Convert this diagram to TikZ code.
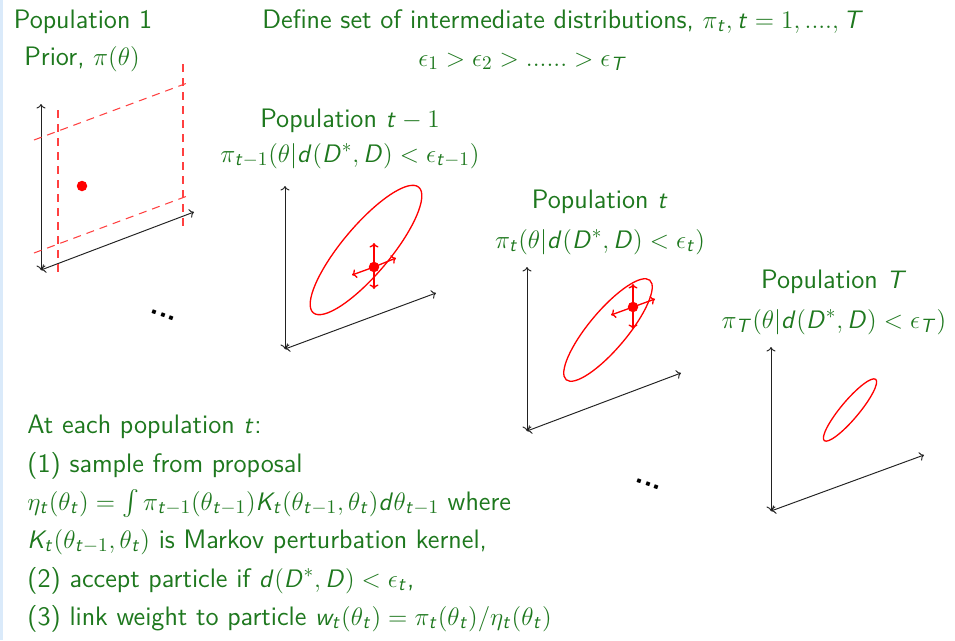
\documentclass[tikz,border=0pt]{standalone}
\usepackage{amsmath}
\usetikzlibrary{arrows.meta}
\definecolor{cgreen}{RGB}{30,120,30}
\definecolor{cbar}{RGB}{218,234,250}
\definecolor{caxis}{HTML}{222222}
% sans slanted latin letters in math, as on the slide
\DeclareSymbolFont{sfit}{OT1}{cmss}{m}{sl}
\DeclareMathSymbol{t}{\mathalpha}{sfit}{`t}
\DeclareMathSymbol{d}{\mathalpha}{sfit}{`d}
\DeclareMathSymbol{w}{\mathalpha}{sfit}{`w}
\DeclareMathSymbol{D}{\mathalpha}{sfit}{`D}
\DeclareMathSymbol{K}{\mathalpha}{sfit}{`K}
\DeclareMathSymbol{T}{\mathalpha}{sfit}{`T}

\begin{document}
\begin{tikzpicture}[
  x=0.2mm, y=-0.2mm,
  font=\fontsize{15.2}{18}\selectfont\sffamily,
  >={To[length=0.9mm, width=1.8mm]},
  txt/.style={text=cgreen, inner sep=0pt},
  axis/.style={<->, draw=caxis, line width=0.55pt},
  cloud/.style={draw=red, line width=0.75pt},
  region/.style={draw=red!75, line width=0.6pt, dash pattern=on 1.6mm off 1.2mm},
  particle/.style={circle, fill=red, inner sep=0pt, minimum size=2.1mm},
  jump/.style={->, draw=red, line width=0.75pt},
  gap/.style={rotate=-20, inner sep=0pt, font=\fontsize{17}{18}\selectfont\sffamily\bfseries},
  ]
\useasboundingbox (0,0) rectangle (955,640);
\fill[cbar] (0,0) rectangle (3,640);

% headings
\node[txt, anchor=base] (p1) at (83,28) {Population 1};
\node[txt, anchor=base] (prior) at (82,65) {Prior, $\pi(\theta)$};
\node[txt, anchor=base west] (defn) at (262,28) {Define set of intermediate distributions, $\pi_t, t = 1, ...., T$};
\node[txt, anchor=base west] (eps) at (418,66) {$\epsilon_1 > \epsilon_2 > ...... > \epsilon_T$};

\node[txt, anchor=base] (p2) at (350,127) {Population $t-1$};
\node[txt, anchor=base] (pi2) at (350,162) {$\pi_{t-1}(\theta|d(D^*,D) < \epsilon_{t-1})$};
\node[txt, anchor=base] (p3) at (600,208) {Population $t$};
\node[txt, anchor=base] (pi3) at (600,248) {$\pi_t(\theta|d(D^*,D) < \epsilon_t)$};
\node[txt, anchor=base] (p4) at (834,288) {Population $T$};
\node[txt, anchor=base] (pi4) at (834,328) {$\pi_T(\theta|d(D^*,D) < \epsilon_T)$};

% population 1
\coordinate (o1) at (41,270);
\coordinate (y1) at (41,104);
\coordinate (x1) at (194,212);
\draw[axis] (o1) -- (y1);
\draw[axis] (o1) -- (x1);
\draw[region] (58,110) -- (58,274);
\draw[region] (183,64) -- (183,226);
\draw[region] (34,140) -- (190,82);
\draw[region] (34,253) -- (190,195);
\node[particle] (s1) at (82,186) {};

% population t-1
\coordinate (o2) at (285,349);
\coordinate (y2) at (285,186);
\coordinate (x2) at (436,293);
\draw[axis] (o2) -- (y2);
\draw[axis] (o2) -- (x2);
\draw[cloud, rotate around={50:(366,250)}] (366,250) ellipse (82 and 24);
\draw[jump] (374,267) -- ++(0,-24);
\draw[jump] (374,267) -- ++(0,22);
\draw[jump] (374,267) -- ++(-22,8);
\draw[jump] (374,267) -- ++(22,-9);
\node[particle] (s2) at (374,267) {};

% population t
\coordinate (o3) at (527,431);
\coordinate (y3) at (527,267);
\coordinate (x3) at (681,373);
\draw[axis] (o3) -- (y3);
\draw[axis] (o3) -- (x3);
\draw[cloud, rotate around={50:(608,330)}] (608,330) ellipse (65 and 19);
\draw[jump] (633,307) -- ++(0,-23);
\draw[jump] (633,307) -- ++(0,22);
\draw[jump] (633,307) -- ++(-22,8);
\draw[jump] (633,307) -- ++(22,-8);
\node[particle] (s3) at (633,307) {};

% population T
\coordinate (o4) at (771,511);
\coordinate (y4) at (771,347);
\coordinate (x4) at (924,455);
\draw[axis] (o4) -- (y4);
\draw[axis] (o4) -- (x4);
\draw[cloud, rotate around={50:(850,410)}] (850,410) ellipse (40 and 9);

\node[gap] (g1) at (163,315) {...};
\node[gap] (g2) at (648,484) {...};

% algorithm
\node[txt, anchor=base west] (l1) at (27,433) {At each population $t$:};
\node[txt, anchor=base west] (l2) at (27,472) {(1) sample from proposal};
\node[txt, anchor=base west] (l3) at (27,510) {$\eta_t(\theta_t) = \mathop{\smash{\int}} \pi_{t-1}(\theta_{t-1}) K_t(\theta_{t-1}, \theta_t) d\theta_{t-1}$ where};
\node[txt, anchor=base west] (l4) at (27,548) {$K_t(\theta_{t-1}, \theta_t)$ is Markov perturbation kernel,};
\node[txt, anchor=base west] (l5) at (27,587) {(2) accept particle if $d(D^*, D) < \epsilon_t$,};
\node[txt, anchor=base west] (l6) at (27,625) {(3) link weight to particle $w_t(\theta_t) = \pi_t(\theta_t)/\eta_t(\theta_t)$};
\end{tikzpicture}
\end{document}
